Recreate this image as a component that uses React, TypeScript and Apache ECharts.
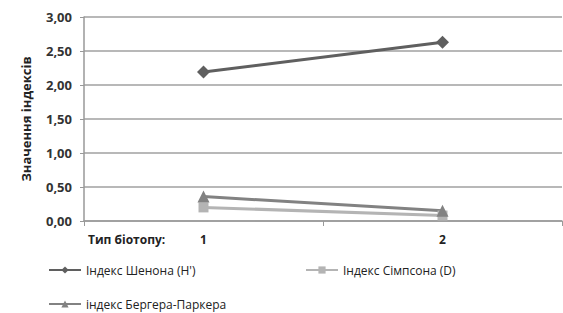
import React, { useEffect, useRef } from "react";
import * as echarts from "echarts";

const categories = ["1", "2"];
const shannon = [2.19, 2.63];
const simpson = [0.2, 0.08];
const bergerParker = [0.36, 0.15];
const seriesNames = ["Індекс Шенона (H')", "Індекс Сімпсона (D)", "індекс Бергера-Паркера"];

export default function App() {
  const ref = useRef<HTMLDivElement>(null);
  useEffect(() => {
    const chart = echarts.init(ref.current!, null, { renderer: "svg" });
    const font = "'Open Sans', 'DejaVu Sans', sans-serif";
    const legendText = { fontSize: 12, color: "#222", fontFamily: font };
    chart.setOption({
      animation: false,
      textStyle: { fontFamily: font },
      grid: { left: 84, right: 1, top: 17, bottom: 92 },
      legend: [
        { data: [seriesNames[0]], left: 43, top: 259, itemWidth: 32, itemHeight: 9, itemGap: 2, textStyle: legendText },
        { data: [seriesNames[1]], left: 300, top: 259, itemWidth: 32, itemHeight: 9, textStyle: legendText },
        { data: [seriesNames[2]], left: 43, top: 293, itemWidth: 32, itemHeight: 9, textStyle: legendText },
      ],
      xAxis: {
        type: "category",
        data: categories,
        boundaryGap: true,
        axisLine: { lineStyle: { color: "#999", width: 1.5 } },
        axisTick: { show: true, length: 5, lineStyle: { color: "#999" } },
        axisLabel: { fontSize: 12, fontWeight: "bold", color: "#222", margin: 12 },
      },
      yAxis: {
        type: "value",
        min: 0,
        max: 3,
        interval: 0.5,
        name: "Значення індексів",
        nameLocation: "middle",
        nameRotate: 90,
        nameGap: 52,
        nameTextStyle: { fontSize: 13, fontWeight: "bold", color: "#222" },
        axisLine: { show: true, lineStyle: { color: "#999", width: 1.5 } },
        axisTick: { show: true, length: 4, lineStyle: { color: "#999" } },
        axisLabel: {
          fontSize: 13,
          fontWeight: "bold",
          color: "#333",
          margin: 12,
          formatter: (v: number) => v.toFixed(2).replace(".", ","),
        },
        splitLine: { lineStyle: { color: "#a0a0a0", width: 1.5 } },
      },
      graphic: [
        {
          type: "text",
          left: 88,
          top: 233,
          style: { text: "Тип біотопу:", font: `bold 12px ${font}`, fill: "#222" },
        },
      ],
      series: [
        {
          name: seriesNames[0],
          type: "line",
          data: shannon,
          symbol: "diamond",
          symbolSize: 13,
          itemStyle: { color: "#5f5f5f" },
          lineStyle: { color: "#5f5f5f", width: 3 },
        },
        {
          name: seriesNames[1],
          type: "line",
          data: simpson,
          symbol: "rect",
          symbolSize: 10,
          itemStyle: { color: "#b4b4b4" },
          lineStyle: { color: "#b4b4b4", width: 3 },
        },
        {
          name: seriesNames[2],
          type: "line",
          data: bergerParker,
          symbol: "triangle",
          symbolSize: 12,
          itemStyle: { color: "#828282" },
          lineStyle: { color: "#828282", width: 3 },
        },
      ],
    });
    return () => chart.dispose();
  }, []);
  return <div ref={ref} style={{ position: "fixed", left: 0, top: 0, width: 563, height: 313, background: "#fff" }} />;
}
